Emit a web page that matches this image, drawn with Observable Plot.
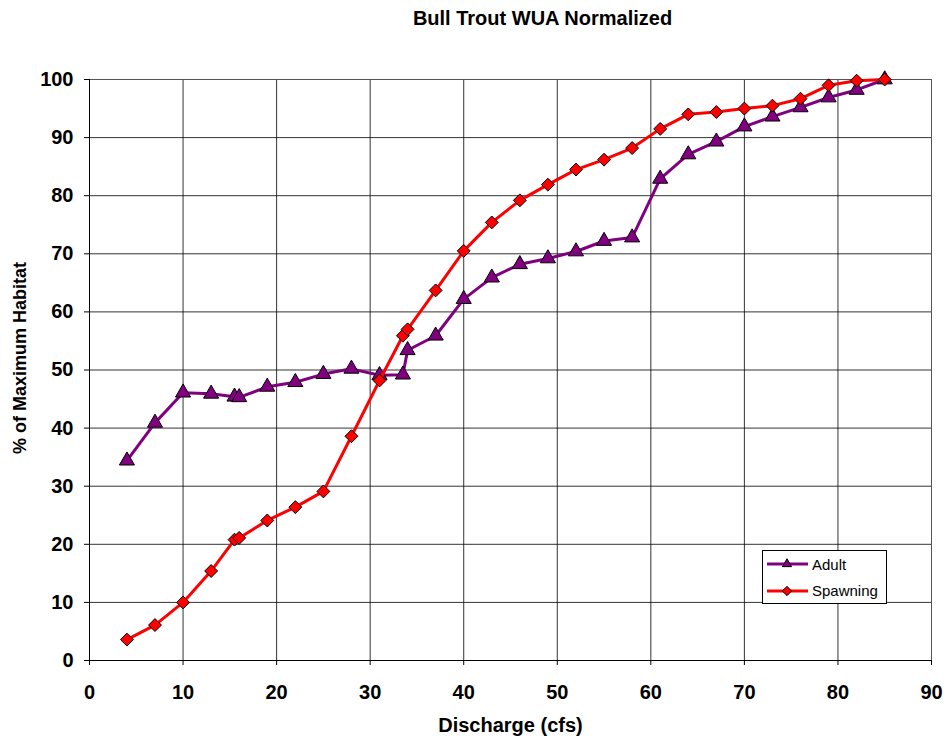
<!DOCTYPE html>
<html>
<head>
<meta charset="utf-8">
<script src="https://cdn.jsdelivr.net/npm/d3@7"></script>
<script src="https://cdn.jsdelivr.net/npm/@observablehq/plot@0.6"></script>
<style>
  html, body { margin: 0; padding: 0; background: #fff; }
  #wrap { position: relative; width: 946px; height: 740px; font-family: "Liberation Sans", Arial, sans-serif; }
  #legend { position: absolute; left: 762px; top: 550px; width: 125px; height: 54px; border: 1px solid #000; background: #fff; box-sizing: border-box; }
  #legend svg { display: block; }
</style>
</head>
<body>
<div id="wrap"></div>
<script>
// ---- data ----
const title = "Bull Trout WUA Normalized";
const xLabel = "Discharge (cfs)";
const yLabel = "% of Maximum Habitat";
const seriesNames = ["Adult", "Spawning"];
const discharge = [4, 7, 10, 13, 15.5, 16, 19, 22, 25, 28, 31, 33.5, 34, 37, 40, 43, 46, 49, 52, 55, 58, 61, 64, 67, 70, 73, 76, 79, 82, 85];
const adult = [34.4, 40.9, 46.1, 45.9, 45.4, 45.3, 47.1, 47.9, 49.3, 50.2, 49.1, 49.2, 53.4, 55.9, 62.2, 65.9, 68.2, 69.2, 70.4, 72.2, 72.8, 82.9, 87.1, 89.3, 91.9, 93.6, 95.2, 96.9, 98.2, 100];
const spawning = [3.6, 6.1, 10.0, 15.4, 20.8, 21.1, 24.1, 26.4, 29.1, 38.6, 48.2, 55.9, 57.0, 63.7, 70.5, 75.4, 79.2, 81.9, 84.5, 86.2, 88.2, 91.5, 94.0, 94.4, 95.0, 95.5, 96.7, 99.0, 99.8, 100];
const xTicks = [0, 10, 20, 30, 40, 50, 60, 70, 80, 90];
const yTicks = [0, 10, 20, 30, 40, 50, 60, 70, 80, 90, 100];

const adultColor = "#800080";
const spawnColor = "#ff0000";

const rows = discharge.map((q, i) => ({q, adult: adult[i], spawning: spawning[i]}));

const chart = Plot.plot({
  width: 946,
  height: 740,
  marginLeft: 89,
  marginRight: 15,
  marginTop: 79,
  marginBottom: 80,
  x: {domain: [0, 90], ticks: xTicks},
  y: {domain: [0, 100], ticks: yTicks},
  style: {fontFamily: "'Liberation Sans', Arial, sans-serif", fontSize: "20px", fontWeight: "bold", color: "#000", background: "#fff"},
  marks: [
    Plot.gridX(xTicks, {stroke: "#000", strokeOpacity: 0.8, strokeWidth: 1}),
    Plot.gridY(yTicks, {stroke: "#000", strokeOpacity: 0.8, strokeWidth: 1}),
    Plot.frame({stroke: "#555"}),
    Plot.ruleX([0], {stroke: "#000"}),
    Plot.ruleY([0], {stroke: "#000"}),
    Plot.axisX(xTicks, {tickSize: 5, tickPadding: 19, label: null, fontSize: 20, fontWeight: "bold", stroke: "#000"}),
    Plot.axisY(yTicks, {tickSize: 5, tickPadding: 11, label: null, fontSize: 20, fontWeight: "bold", stroke: "#000"}),
    Plot.line(rows, {x: "q", y: "adult", stroke: adultColor, strokeWidth: 3}),
    Plot.dot(rows, {x: "q", y: "adult", symbol: "triangle", r: 5.6, fill: adultColor, stroke: "#000", strokeWidth: 1}),
    Plot.line(rows, {x: "q", y: "spawning", stroke: spawnColor, strokeWidth: 3}),
    Plot.dot(rows, {x: "q", y: "spawning", symbol: "diamond2", r: 5.8, fill: spawnColor, stroke: "#000", strokeWidth: 1}),
    Plot.text([title], {frameAnchor: "top", dy: -61, dx: 32, fontSize: 20, fontWeight: "bold", lineAnchor: "middle", textAnchor: "middle"}),
    Plot.text([xLabel], {frameAnchor: "bottom", dy: 65, fontSize: 20, fontWeight: "bold", lineAnchor: "middle", textAnchor: "middle"}),
    Plot.text([yLabel], {frameAnchor: "left", dx: -69, dy: -12, rotate: -90, fontSize: 18, fontWeight: "bold", lineAnchor: "middle", textAnchor: "middle"})
  ]
});

const wrap = document.getElementById("wrap");
wrap.appendChild(chart);

// ---- legend ----
const legend = document.createElement("div");
legend.id = "legend";
wrap.appendChild(legend);
const lsvg = d3.select(legend).append("svg").attr("width", 123).attr("height", 52);
const items = [
  {name: seriesNames[0], color: adultColor, sym: d3.symbolTriangle, size: 36, y: 13, ty: 19},
  {name: seriesNames[1], color: spawnColor, sym: d3.symbolDiamond2, size: 55, y: 40, ty: 45}
];
items.forEach(it => {
  lsvg.append("line").attr("x1", 4).attr("x2", 45).attr("y1", it.y).attr("y2", it.y)
    .attr("stroke", it.color).attr("stroke-width", 3);
  lsvg.append("path").attr("d", d3.symbol(it.sym, it.size)())
    .attr("transform", `translate(24,${it.y})`)
    .attr("fill", it.color).attr("stroke", "#000").attr("stroke-width", 1);
  lsvg.append("text").attr("x", 49).attr("y", it.ty).text(it.name)
    .attr("font-family", "'Liberation Sans', Arial, sans-serif").attr("font-size", 15).attr("fill", "#000");
});
</script>
</body>
</html>
